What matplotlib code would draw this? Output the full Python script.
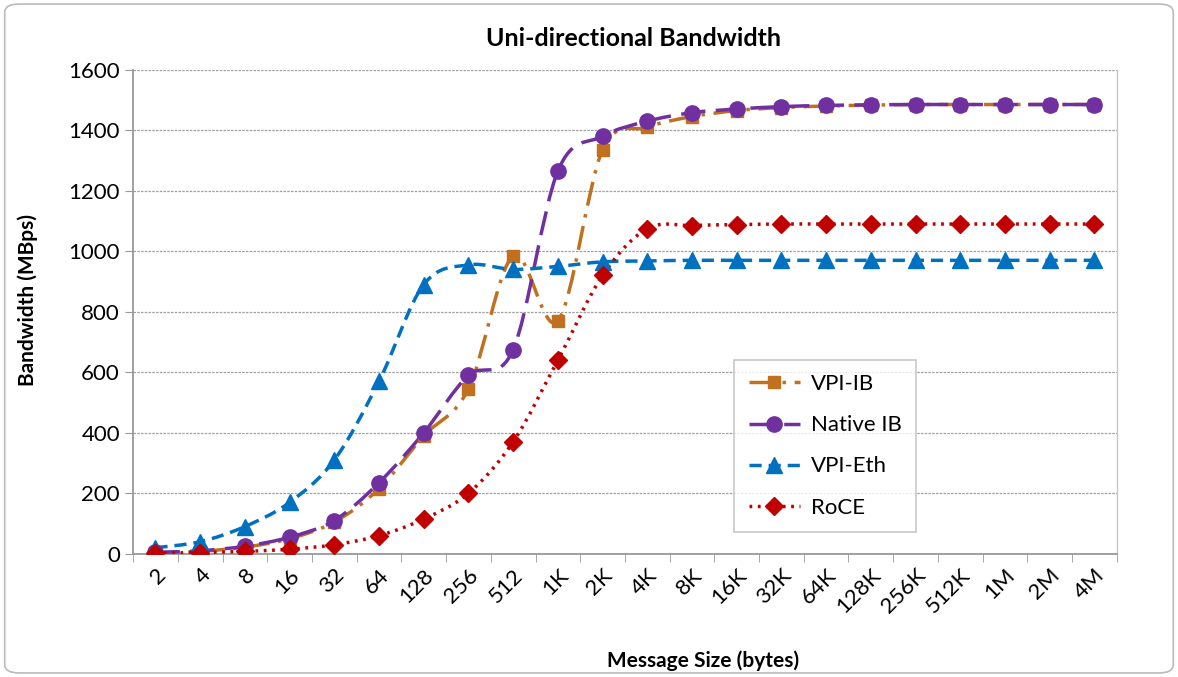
import matplotlib
matplotlib.use("Agg")
import matplotlib.pyplot as plt
import numpy as np
from matplotlib.path import Path
from matplotlib.patches import PathPatch, FancyBboxPatch
from matplotlib.lines import Line2D

plt.rcParams['font.family'] = ['Lato', 'DejaVu Sans']

sizes = ["2", "4", "8", "16", "32", "64", "128", "256", "512", "1K", "2K", "4K",
         "8K", "16K", "32K", "64K", "128K", "256K", "512K", "1M", "2M", "4M"]
vpi_ib = [3, 8, 22, 50, 105, 215, 390, 545, 985, 770, 1335, 1410,
          1445, 1465, 1475, 1480, 1483, 1485, 1485, 1485, 1485, 1485]
native_ib = [5, 10, 25, 55, 110, 235, 400, 590, 675, 1265, 1380, 1430,
             1458, 1470, 1478, 1482, 1484, 1485, 1485, 1485, 1485, 1485]
vpi_eth = [20, 40, 90, 170, 310, 570, 890, 955, 940, 950, 965, 968,
           970, 970, 970, 970, 970, 970, 970, 970, 970, 970]
roce = [2, 4, 8, 15, 30, 60, 115, 200, 370, 640, 920, 1075,
        1085, 1088, 1090, 1090, 1090, 1090, 1090, 1090, 1090, 1090]

series = [
    ("VPI-IB", vpi_ib, "#C0701E", "s", (7, 2.5, 1, 2.5), 9),
    ("Native IB", native_ib, "#7030A0", "o", (7, 3), 11),
    ("VPI-Eth", vpi_eth, "#0070C0", "^", (3.5, 2), 11),
    ("RoCE", roce, "#C00000", "D", (0.8, 1.6), 9),
]


def smooth_path(x, y):
    # catmull-rom through the points, written as cubic bezier pieces
    pts = np.column_stack([x, y]).astype(float)
    n = len(pts)
    verts = [pts[0]]
    codes = [Path.MOVETO]
    for i in range(n - 1):
        p0 = pts[i - 1] if i > 0 else pts[i]
        p1 = pts[i]
        p2 = pts[i + 1]
        p3 = pts[i + 2] if i + 2 < n else pts[i + 1]
        c1 = p1 + (p2 - p0) / 6.0
        c2 = p2 - (p3 - p1) / 6.0
        verts += [c1, c2, p2]
        codes += [Path.CURVE4] * 3
    return Path(verts, codes)


fig = plt.figure(figsize=(11.78, 6.77), dpi=100)
ax = fig.add_axes([0.113, 0.182, 0.835, 0.715])

x = np.arange(len(sizes))
handles = []
for name, vals, col, mk, dash, ms in series:
    patch = PathPatch(smooth_path(x, vals), facecolor="none", edgecolor=col,
                      lw=2.5, linestyle=(0, dash), zorder=3)
    ax.add_patch(patch)
    ax.plot(x, vals, linestyle="none", marker=mk, color=col, markersize=ms, zorder=4)
    handles.append(Line2D([], [], color=col, lw=2.5, linestyle=(0, dash),
                          marker=mk, markersize=ms))

ax.set_xlim(-0.5, len(sizes) - 0.5)
ax.set_ylim(0, 1600)
ax.set_yticks(range(0, 1601, 200))
ax.set_xticks(x)
ax.set_xticklabels(sizes, rotation=45, ha="right", rotation_mode="anchor", fontsize=16)
ax.tick_params(axis="y", labelsize=16, length=6, color="#999999")
ax.tick_params(axis="x", length=0, pad=8)
ax.set_xticks(np.arange(len(sizes) + 1) - 0.5, minor=True)
ax.tick_params(axis="x", which="minor", length=6, color="#999999")

ax.yaxis.grid(True, linestyle=(0, (2, 1)), color="#A0A0A0", lw=0.9)
ax.set_axisbelow(True)
for s in ["left", "bottom", "right"]:
    ax.spines[s].set_color("#999999")
    ax.spines[s].set_linewidth(1.3)
ax.spines["right"].set_color("#C8C8C8")
ax.spines["right"].set_linewidth(1.0)
ax.spines["top"].set_visible(False)

ax.set_title("Uni-directional Bandwidth", fontsize=18, fontweight="bold",
             x=0.509, pad=17)
ax.set_ylabel("Bandwidth (MBps)", fontsize=15, fontweight="bold")
ax.set_xlabel("Message Size (bytes)", fontsize=15, fontweight="bold")
ax.yaxis.set_label_coords(-0.097, 0.525)
ax.xaxis.set_label_coords(0.579, -0.2)

leg = ax.legend(handles, [s[0] for s in series], loc="lower left",
                bbox_to_anchor=(0.611, 0.045), borderaxespad=0, fontsize=16,
                frameon=True, fancybox=False, edgecolor="#BBBBBB",
                handlelength=2.3, handletextpad=0.5, labelspacing=0.95,
                borderpad=0.65)
leg.get_frame().set_linewidth(1.2)

border = FancyBboxPatch((0.004, 0.006), 0.992, 0.988, transform=fig.transFigure,
                        boxstyle="round,pad=0,rounding_size=0.012",
                        facecolor="none", edgecolor="#BBBBBB", lw=1.2)
fig.patches.append(border)

fig.savefig("out.png", dpi=100)
